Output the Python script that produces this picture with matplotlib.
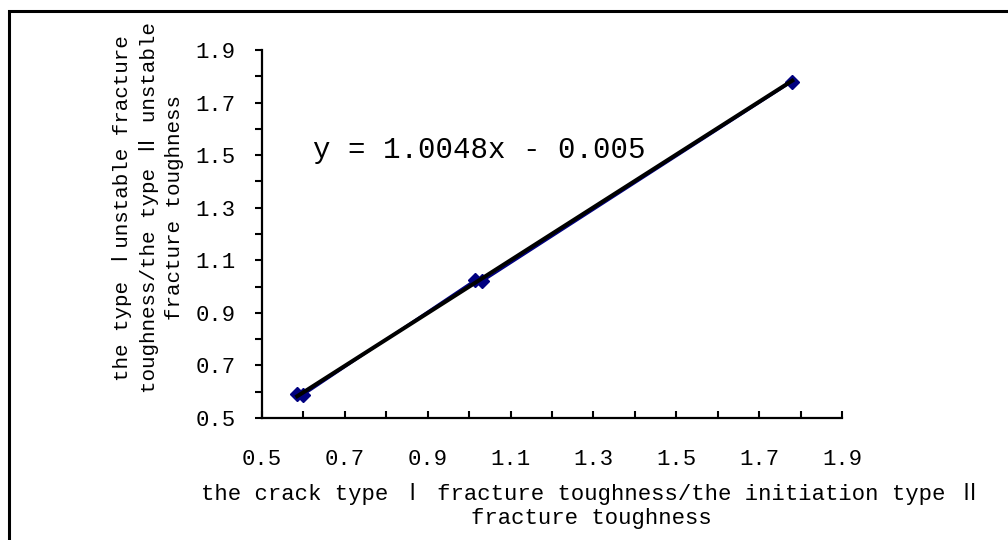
import matplotlib.pyplot as plt
from matplotlib.patches import Rectangle

# data
crack_ratio = [0.585, 0.598, 1.014, 1.032, 1.780]
unstable_ratio = [0.592, 0.586, 1.025, 1.020, 1.780]
slope, intercept = 1.0048, -0.005
equation = "y = 1.0048x - 0.005"
x_ticks = [0.5, 0.7, 0.9, 1.1, 1.3, 1.5, 1.7, 1.9]
y_ticks = [0.5, 0.7, 0.9, 1.1, 1.3, 1.5, 1.7, 1.9]
minor_ticks = [0.6, 0.8, 1.0, 1.2, 1.4, 1.6, 1.8]
x_label = "the crack type \u2160 fracture toughness/the initiation type \u2161\nfracture toughness"
y_label = "the type \u2160unstable fracture\ntoughness/the type \u2161 unstable\nfracture toughness"

plt.rcParams["font.family"] = ["Liberation Mono", "Noto Sans CJK SC"]

W, H = 1008, 540
fig = plt.figure(figsize=(W / 100, H / 100), dpi=100)
ax = fig.add_axes([262 / W, 1 - 418 / H, (842 - 262) / W, (418 - 50) / H])

ax.plot(crack_ratio, unstable_ratio, color="#000080", lw=1.6, marker="D", ms=7, zorder=2)
x0, x1 = min(crack_ratio), max(crack_ratio)
ax.plot([x0, x1], [slope * x0 + intercept, slope * x1 + intercept], color="black", lw=2.9, zorder=3)

ax.set_xlim(0.5, 1.9)
ax.set_ylim(0.5, 1.9)
ax.set_xticks(x_ticks)
ax.set_xticklabels([f"{v:.1f}" for v in x_ticks])
ax.set_yticks(y_ticks)
ax.set_yticklabels([f"{v:.1f}" for v in y_ticks])
ax.set_xticks(minor_ticks, minor=True)
ax.set_yticks(minor_ticks, minor=True)
ax.tick_params(axis="x", which="both", direction="in", length=5, width=1.5, pad=22, labelsize=16)
ax.tick_params(axis="y", which="both", direction="out", length=5, width=1.5, pad=14, labelsize=16)
for side in ("top", "right"):
    ax.spines[side].set_visible(False)
for side in ("left", "bottom"):
    ax.spines[side].set_linewidth(1.6)

fig.text(313 / W, 1 - 150 / H, equation, ha="left", va="center", fontsize=21)
fig.text(591 / W, 1 - 506 / H, x_label, ha="center", va="center", fontsize=16, linespacing=1.2)
fig.text(148 / W, 1 - 208 / H, y_label, ha="center", va="center", rotation=90, fontsize=15, linespacing=1.45)

fig.add_artist(Rectangle((9 / W, -0.2), 1.2, 1.2 - 11 / H, transform=fig.transFigure,
                         fill=False, ec="black", lw=2.2))

fig.savefig("out.png", dpi=100)
